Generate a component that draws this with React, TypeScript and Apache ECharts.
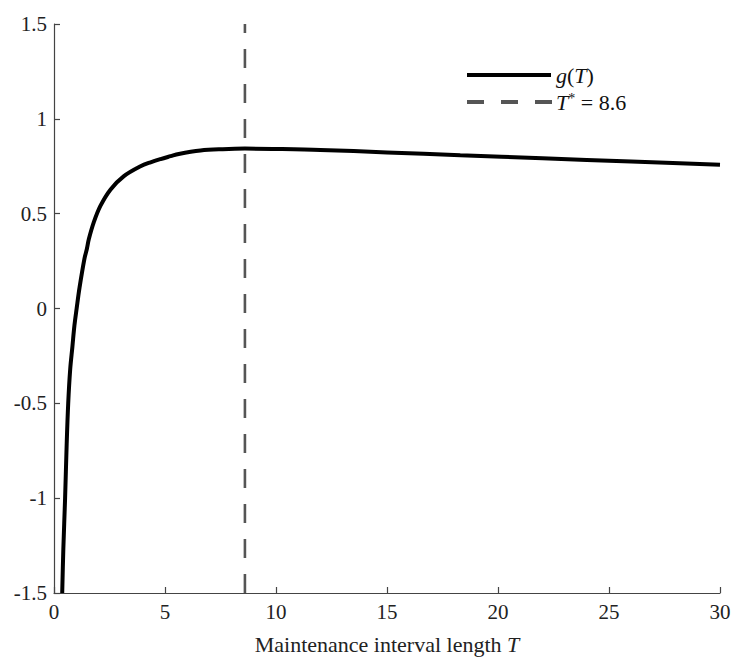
import React, { useEffect, useRef } from "react";
import * as echarts from "echarts";

const tValues = [0.37, 0.42, 0.5, 0.57, 0.64, 0.73, 0.83, 0.92, 1.02, 1.15, 1.37, 1.48, 1.57, 1.79, 2.09, 2.55, 3.15, 3.9, 4.35, 4.8, 5.25, 5.62, 6.6, 7.6, 8.6, 10, 12, 15, 18.3, 22, 26, 30];
const gValues = [-1.5, -1.27, -1.0, -0.72, -0.5, -0.32, -0.2, -0.09, 0.0, 0.11, 0.262, 0.314, 0.366, 0.454, 0.541, 0.628, 0.698, 0.75, 0.771, 0.788, 0.803, 0.815, 0.833, 0.84, 0.843, 0.841, 0.836, 0.823, 0.808, 0.792, 0.775, 0.758];
const tStar = 8.6;
const xTicks = [0, 5, 10, 15, 20, 25, 30];
const yTicks = [-1.5, -1, -0.5, 0, 0.5, 1, 1.5];

const FONT = "Liberation Serif";

export default function App() {
  const ref = useRef<HTMLDivElement>(null);
  useEffect(() => {
    const chart = echarts.init(ref.current!, null, { renderer: "svg" });
    const axisColor = "#444";
    chart.setOption({
      animation: false,
      textStyle: { fontFamily: FONT },
      grid: { left: 46, right: 19, top: 16, bottom: 63 },
      xAxis: {
        type: "value",
        min: xTicks[0],
        max: xTicks[xTicks.length - 1],
        interval: 5,
        axisLine: { show: true, onZero: false, lineStyle: { color: axisColor, width: 1.2 } },
        axisTick: { show: true, inside: true, length: 6, lineStyle: { color: axisColor, width: 1.2 } },
        axisLabel: { color: "#222", fontFamily: FONT, fontSize: 21, margin: 8 },
        splitLine: { show: false },
        name: "{n|Maintenance interval length }{i|T}",
        nameLocation: "middle",
        nameGap: 40,
        nameTextStyle: {
          rich: {
            n: { fontFamily: FONT, fontSize: 22, color: "#222" },
            i: { fontFamily: FONT, fontSize: 22, color: "#222", fontStyle: "italic" },
          },
        },
      },
      yAxis: {
        type: "value",
        min: yTicks[0],
        max: yTicks[yTicks.length - 1],
        interval: 0.5,
        axisLine: { show: true, onZero: false, lineStyle: { color: axisColor, width: 1.2 } },
        axisTick: { show: true, inside: true, length: 6, lineStyle: { color: axisColor, width: 1.2 } },
        axisLabel: { color: "#222", fontFamily: FONT, fontSize: 21, margin: 7 },
        splitLine: { show: false },
      },
      series: [
        {
          type: "line",
          name: "g(T)",
          data: tValues.map((t, i) => [t, gValues[i]]),
          showSymbol: false,
          smooth: 0.35,
          clip: true,
          lineStyle: { color: "#000", width: 4 },
          z: 3,
        },
        {
          type: "line",
          name: "T*",
          data: [
            [tStar, yTicks[0]],
            [tStar, yTicks[yTicks.length - 1]],
          ],
          showSymbol: false,
          lineStyle: { color: "#555", width: 2.6, type: [19, 16] },
          z: 2,
        },
      ],
      graphic: [
        {
          type: "line",
          shape: { x1: 459, y1: 67, x2: 543, y2: 67 },
          style: { stroke: "#000", lineWidth: 4 },
        },
        {
          type: "line",
          shape: { x1: 459, y1: 94, x2: 544, y2: 94 },
          style: { stroke: "#555", lineWidth: 4, lineDash: [17, 17] },
        },
        {
          type: "text",
          x: 548,
          y: 67,
          style: {
            text: "{i|g}{n|(}{i|T}{n|)}",
            verticalAlign: "middle",
            rich: {
              i: { fontFamily: FONT, fontSize: 22, fill: "#111", fontStyle: "italic" },
              n: { fontFamily: FONT, fontSize: 22, fill: "#111" },
            },
          },
        },
        {
          type: "text",
          x: 548,
          y: 94,
          style: {
            text: "{i|T}{s|*}{n| = 8.6}",
            verticalAlign: "middle",
            rich: {
              i: { fontFamily: FONT, fontSize: 22, fill: "#111", fontStyle: "italic" },
              s: { fontFamily: FONT, fontSize: 14, fill: "#111", verticalAlign: "top", padding: [0, 0, 8, 0] },
              n: { fontFamily: FONT, fontSize: 22, fill: "#111" },
            },
          },
        },
      ],
    });
    return () => chart.dispose();
  }, []);
  return <div ref={ref} style={{ width: 731, height: 652 }} />;
}
